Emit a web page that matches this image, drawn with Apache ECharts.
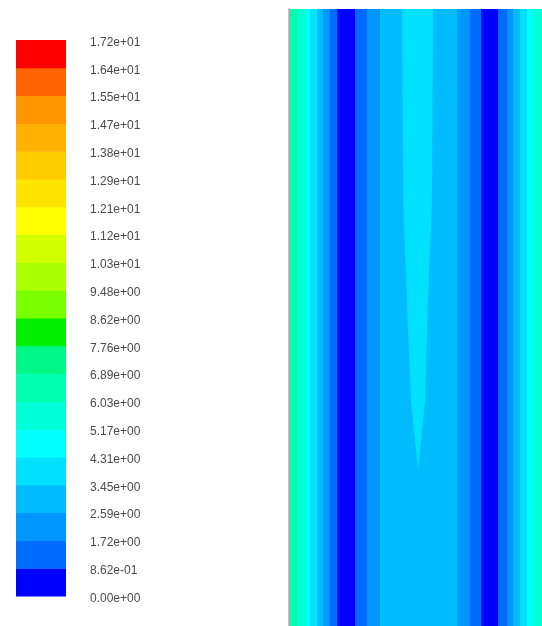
<!DOCTYPE html>
<html>
<head>
<meta charset="utf-8">
<script src="https://cdn.jsdelivr.net/npm/echarts@6/dist/echarts.min.js"></script>
<style>
  html, body { margin: 0; padding: 0; background: #fff; }
  #chart { width: 542px; height: 626px; }
</style>
</head>
<body>
<div id="chart"></div>
<script>
  // contour levels (legend labels, bottom to top)
  const bandLabels = [
    '0.00e+00', '8.62e-01', '1.72e+00', '2.59e+00', '3.45e+00', '4.31e+00', '5.17e+00',
    '6.03e+00', '6.89e+00', '7.76e+00', '8.62e+00', '9.48e+00', '1.03e+01', '1.12e+01',
    '1.21e+01', '1.29e+01', '1.38e+01', '1.47e+01', '1.55e+01', '1.64e+01', '1.72e+01'
  ]
  const bandStep = 0.862
  const bandColors = [
    '#0000ff', '#006cff', '#0096ff', '#00bcff', '#00e0ff', '#00ffff', '#00ffd8',
    '#00ffb0', '#00f888', '#00f000', '#78ff00', '#aaff00', '#d2ff00', '#ffff00',
    '#ffe400', '#ffcc00', '#ffb000', '#ff9600', '#ff6400', '#ff0000'
  ]

  // field: vertical strips across the width (x in % of width), one value each
  const stripEdges = [0, 3.6, 6.3, 8.3, 11.1, 13.4, 16.2, 19.0, 26.1, 30.8, 36.0, 66.4,
    71.5, 75.9, 82.6, 86.2, 88.5, 91.3, 94.1, 96.0, 100]
  const stripValues = [6.4, 5.6, 4.7, 3.9, 3.0, 2.2, 1.3, 0.4, 1.3, 2.2, 3.0,
    2.2, 1.3, 0.4, 1.3, 2.2, 3.0, 3.9, 4.7, 5.6]

  // central tongue of higher values, narrowing downwards (y in % of height)
  const wedgeY = [100, 69.0, 52.8, 36.6, 25.3]
  const wedgeLeft = [44.7, 45.1, 46.6, 48.2, 51.0]
  const wedgeRight = [56.9, 56.5, 54.9, 53.8, 51.0]
  const wedgeValue = 3.9

  const colorOf = (v) => bandColors[Math.min(bandColors.length - 1, Math.floor(v / bandStep))]

  const chart = echarts.init(document.getElementById('chart'))

  const legendData = bandColors.map((c, i) => [i * bandStep, (i + 1) * bandStep, i])
  const stripData = stripValues.map((v, i) => [stripEdges[i], stripEdges[i + 1], v])

  const option = {
    animation: false,
    grid: [
      { left: 16, top: 40, width: 50, height: 556 },
      { left: 289, top: 9, width: 253, height: 617 }
    ],
    xAxis: [
      { gridIndex: 0, type: 'value', min: 0, max: 1, show: false },
      { gridIndex: 1, type: 'value', min: 0, max: 100, show: false }
    ],
    yAxis: [
      {
        gridIndex: 0,
        type: 'value',
        position: 'right',
        min: 0,
        max: bandStep * 20,
        interval: bandStep,
        axisLine: { show: false },
        axisTick: { show: false },
        splitLine: { show: false },
        axisLabel: {
          margin: 24,
          formatter: (v) => '{t|' + bandLabels[Math.round(v / bandStep)] + '}',
          rich: {
            t: {
              padding: [5, 0, 0, 0],
              color: '#4a4a4a',
              fontSize: 12,
              fontFamily: 'Liberation Sans, Arial, sans-serif'
            }
          }
        }
      },
      {
        gridIndex: 1,
        type: 'value',
        min: 0,
        max: 100,
        axisLine: { show: true, lineStyle: { color: '#c4c4c4', width: 2 } },
        axisTick: { show: false },
        axisLabel: { show: false },
        splitLine: { show: false }
      }
    ],
    series: [
      {
        type: 'custom',
        xAxisIndex: 0,
        yAxisIndex: 0,
        data: legendData,
        renderItem: (params, api) => {
          const p0 = api.coord([0, api.value(1)])
          const p1 = api.coord([1, api.value(0)])
          return {
            type: 'rect',
            shape: { x: p0[0], y: p0[1], width: p1[0] - p0[0], height: p1[1] - p0[1] + 0.5 },
            style: { fill: bandColors[api.value(2)] }
          }
        }
      },
      {
        type: 'custom',
        xAxisIndex: 1,
        yAxisIndex: 1,
        data: stripData,
        renderItem: (params, api) => {
          const p0 = api.coord([api.value(0), 100])
          const p1 = api.coord([api.value(1), 0])
          return {
            type: 'rect',
            shape: { x: p0[0], y: p0[1], width: p1[0] - p0[0] + 0.5, height: p1[1] - p0[1] },
            style: { fill: colorOf(api.value(2)) }
          }
        }
      },
      {
        type: 'custom',
        xAxisIndex: 1,
        yAxisIndex: 1,
        data: [[50, 50, wedgeValue]],
        renderItem: (params, api) => {
          const pts = []
          wedgeY.forEach((y, i) => pts.push(api.coord([wedgeLeft[i], y])))
          for (let i = wedgeY.length - 1; i >= 0; i--) pts.push(api.coord([wedgeRight[i], wedgeY[i]]))
          return {
            type: 'polygon',
            shape: { points: pts },
            style: { fill: colorOf(api.value(2)) }
          }
        }
      }
    ]
  }

  chart.setOption(option)
</script>
</body>
</html>
